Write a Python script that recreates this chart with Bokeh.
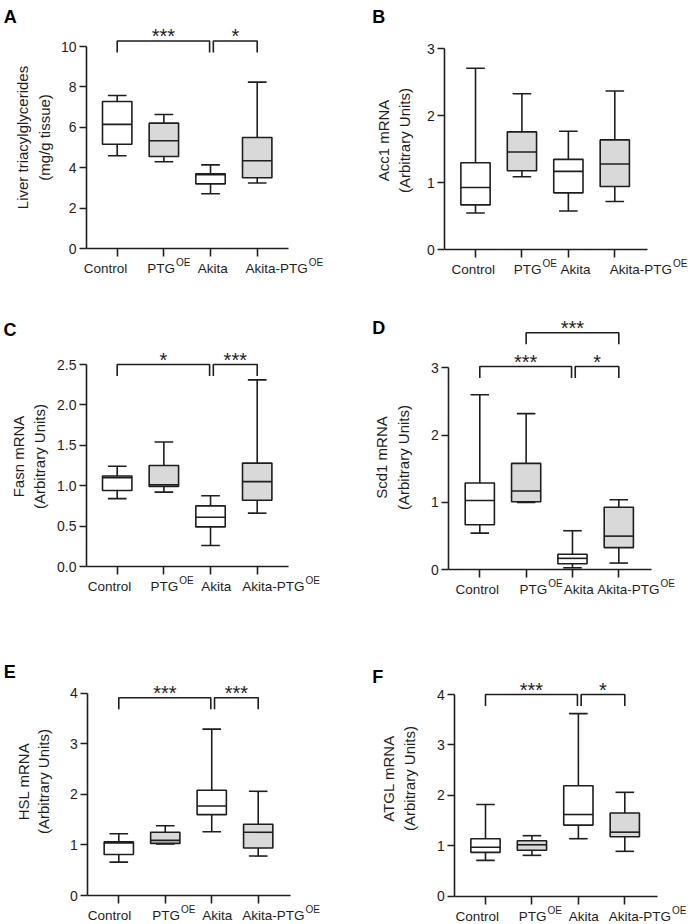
import math
from bokeh.plotting import figure
from bokeh.layouts import column, row
from bokeh.models import Label, Range1d, FixedTicker, PrintfTickFormatter
from bokeh.embed import file_html
from bokeh.resources import INLINE

FONT = "Liberation Sans"
INK = "#1e1e1e"
GRAY = "#d9d9d9"

# ---------------- data ----------------
groups = ["Control", "PTG", "Akita", "Akita-PTG"]
group_sup = ["", "OE", "", "OE"]
group_fill = ["white", GRAY, "white", GRAY]

a_title = ["Liver triacylglycerides", "(mg/g tissue)"]
a_yticks = [0, 2, 4, 6, 8, 10]
a_max = [7.58, 6.64, 4.15, 8.24]
a_q3 = [7.28, 6.21, 3.71, 5.50]
a_med = [6.15, 5.34, 3.66, 4.35]
a_q1 = [5.17, 4.56, 3.21, 3.51]
a_min = [4.60, 4.30, 2.72, 3.25]
a_pairs = [(1, 3), (3, 4)]
a_stars = ["***", "*"]
a_sig_y = [10.27, 10.27]

b_title = ["Acc1 mRNA", "(Arbitrary Units)"]
b_yticks = [0, 1, 2, 3]
b_max = [2.71, 2.33, 1.77, 2.37]
b_q3 = [1.30, 1.76, 1.35, 1.64]
b_med = [0.93, 1.46, 1.17, 1.28]
b_q1 = [0.67, 1.18, 0.85, 0.945]
b_min = [0.55, 1.09, 0.58, 0.72]
b_pairs = []
b_stars = []
b_sig_y = []

c_title = ["Fasn mRNA", "(Arbitrary Units)"]
c_yticks = [0, 0.5, 1.0, 1.5, 2.0, 2.5]
c_max = [1.24, 1.54, 0.875, 2.31]
c_q3 = [1.12, 1.25, 0.75, 1.28]
c_med = [1.10, 1.01, 0.61, 1.05]
c_q1 = [0.94, 0.99, 0.49, 0.82]
c_min = [0.84, 0.92, 0.26, 0.66]
c_pairs = [(1, 3), (3, 4)]
c_stars = ["*", "***"]
c_sig_y = [2.5, 2.5]

d_title = ["Scd1 mRNA", "(Arbitrary Units)"]
d_yticks = [0, 1, 2, 3]
d_max = [2.60, 2.32, 0.58, 1.04]
d_q3 = [1.29, 1.58, 0.23, 0.93]
d_med = [1.03, 1.17, 0.17, 0.50]
d_q1 = [0.67, 1.01, 0.09, 0.33]
d_min = [0.545, 1.00, 0.03, 0.10]
d_pairs = [(2, 4), (1, 3), (3, 4)]
d_stars = ["***", "***", "*"]
d_sig_y = [3.52, 3.02, 3.02]

e_title = ["HSL mRNA", "(Arbitrary Units)"]
e_yticks = [0, 1, 2, 3, 4]
e_max = [1.22, 1.38, 3.29, 2.06]
e_q3 = [1.06, 1.25, 2.08, 1.41]
e_med = [1.04, 1.09, 1.77, 1.25]
e_q1 = [0.81, 1.03, 1.60, 0.94]
e_min = [0.66, 1.02, 1.26, 0.78]
e_pairs = [(1, 3), (3, 4)]
e_stars = ["***", "***"]
e_sig_y = [3.91, 3.91]

f_title = ["ATGL mRNA", "(Arbitrary Units)"]
f_yticks = [0, 1, 2, 3, 4]
f_max = [1.82, 1.20, 3.62, 2.06]
f_q3 = [1.14, 1.10, 2.19, 1.65]
f_med = [0.97, 1.02, 1.62, 1.27]
f_q1 = [0.87, 0.91, 1.41, 1.18]
f_min = [0.71, 0.81, 1.14, 0.89]
f_pairs = [(1, 3), (3, 4)]
f_stars = ["***", "*"]
f_sig_y = [4.0, 4.0]

# text widths (em) of the main tick texts, Arial metrics
EM_W = {"Control": 3.223, "PTG": 2.056, "Akita": 2.223, "Akita-PTG": 4.612, "OE": 1.445}

# ---------------- layout (pixels, page coords) ----------------
COLS = [(0, 345), (345, 344)]               # (x origin, width)
ROWS = [(0, 300), (300, 310), (610, 313)]   # (y origin, height)
STAR_FS = 20
TICK_FS = 13.5
SUP_FS = 10
FIX = 4  # renderer places alphabetic baseline ~4px further down


def make_panel(letter, col, rowi, geom, title, yticks, fmt, vmax, vq3, vmed, vq1, vmin,
               pairs, stars, sig_y):
    cx0, W = COLS[col]
    ry0, H = ROWS[rowi]
    ax_l, ax_r, y0px, ytop_px, ytop_val, ticks_px = geom["frame"]
    ppx = (ticks_px[3] - ticks_px[0]) / 3.0
    ppu = (y0px - ytop_px) / ytop_val

    def dx(px):
        return 1 + (px - ticks_px[0]) / ppx

    def dy(py):
        return (y0px - py) / ppu

    p = figure(width=W, height=H, output_backend="svg", toolbar_location=None,
               x_range=Range1d(dx(cx0), dx(cx0 + W)), y_range=Range1d(dy(ry0 + H), dy(ry0)),
               min_border=0, min_border_left=0, min_border_right=0,
               min_border_top=0, min_border_bottom=0)
    p.outline_line_color = None
    p.background_fill_color = "white"
    p.border_fill_color = "white"
    p.xgrid.grid_line_color = None
    p.ygrid.grid_line_color = None

    for ax in (p.xaxis[0], p.yaxis[0]):
        ax.axis_line_color = INK
        ax.axis_line_width = 1.6
        ax.major_tick_line_color = INK
        ax.major_tick_line_width = 1.6
        ax.major_tick_in = 0
        ax.minor_tick_line_color = None
        ax.major_label_text_font = FONT
        ax.major_label_text_font_size = "14px"
        ax.major_label_text_color = INK
    p.xaxis[0].fixed_location = 0
    p.xaxis[0].bounds = (dx(ax_l), dx(ax_r))
    p.xaxis[0].ticker = FixedTicker(ticks=[1, 2, 3, 4])
    p.xaxis[0].major_tick_out = 8
    p.xaxis[0].major_label_text_color = None
    p.yaxis[0].fixed_location = dx(ax_l)
    p.yaxis[0].ticker = FixedTicker(ticks=yticks)
    p.yaxis[0].major_tick_out = 7
    p.yaxis[0].major_label_standoff = 3
    p.yaxis[0].bounds = (0, yticks[-1])
    if fmt:
        p.yaxis[0].formatter = PrintfTickFormatter(format=fmt)

    xs = [1, 2, 3, 4]
    bw = 0.63
    cw = 0.20
    p.segment(xs, vq3, xs, vmax, line_color=INK, line_width=1.6)
    p.segment(xs, vq1, xs, vmin, line_color=INK, line_width=1.6)
    p.segment([x - cw for x in xs], vmax, [x + cw for x in xs], vmax, line_color=INK, line_width=1.6)
    p.segment([x - cw for x in xs], vmin, [x + cw for x in xs], vmin, line_color=INK, line_width=1.6)
    p.vbar(x=xs, width=bw, bottom=vq1, top=vq3, fill_color=group_fill,
           line_color=INK, line_width=1.6)
    p.segment([x - bw / 2 for x in xs], vmed, [x + bw / 2 for x in xs], vmed,
              line_color=INK, line_width=1.6)

    # significance brackets
    drop = 11.5 / ppu
    bxs, bys = [], []
    for (g1, g2), s, top in zip(pairs, stars, sig_y):
        left = g1 + (0.06 if any(q[1] == g1 and t == top for q, t in zip(pairs, sig_y)) else 0.0)
        right = g2 - (0.02 if any(q[0] == g2 and t == top for q, t in zip(pairs, sig_y)) else 0.0)
        bxs.append([left, left, right, right])
        bys.append([top - drop, top, top, top - drop])
        star_base = top - (7 - 0.58 * STAR_FS) / ppu
        p.add_layout(Label(x=(left + right) / 2, y=star_base, text=s, text_font=FONT,
                           text_font_size=f"{STAR_FS}px", text_color=INK,
                           text_align="center", text_baseline="alphabetic"))
    if bxs:
        p.multi_line(bxs, bys, line_color=INK, line_width=1.6)

    # category labels with superscripts
    base = y0px + 24 - FIX
    right_edge = cx0 + W - 2
    for name, sup, lx in zip(groups, group_sup, geom["labels"]):
        total = EM_W[name] * TICK_FS + (EM_W[sup] * SUP_FS + 1 if sup else 0)
        lx = min(lx, right_edge - total)
        p.add_layout(Label(x=dx(lx), y=dy(base), text=name, text_font=FONT,
                           text_font_size=f"{TICK_FS}px", text_color=INK,
                           text_align="left", text_baseline="alphabetic"))
        if sup:
            p.add_layout(Label(x=dx(lx + EM_W[name] * TICK_FS + 1), y=dy(base - 6), text=sup,
                               text_font=FONT, text_font_size=f"{SUP_FS}px", text_color=INK,
                               text_align="left", text_baseline="alphabetic"))

    # y-axis title (two lines)
    b1, b2, cy = geom["title"]
    for txt, bx in zip(title, (b1, b2)):
        p.add_layout(Label(x=dx(bx - FIX), y=dy(cy), text=txt, angle=math.pi / 2,
                           text_font=FONT, text_font_size="15px", text_color=INK,
                           text_align="center", text_baseline="alphabetic"))

    # panel letter
    lx, ly = geom["letter"]
    p.add_layout(Label(x=dx(lx), y=dy(ly - FIX), text=letter, text_font=FONT,
                       text_font_size="18px", text_font_style="bold", text_color="black",
                       text_align="left", text_baseline="alphabetic"))
    return p


GEOM = {
    "A": {"frame": (86, 288, 248.3, 46, 10, [116.7, 163.3, 210, 256.7]),
          "labels": [83.3, 146.7, 197.3, 245], "title": (26, 47.7, 137), "letter": (3.3, 20.7)},
    "B": {"frame": (444.3, 646.7, 249.3, 48.3, 3, [475, 521.7, 567.7, 614.3]),
          "labels": [451, 513.3, 560, 611.7], "title": (386.7, 408, 140), "letter": (371.7, 20.7)},
    "C": {"frame": (86, 288.3, 566, 364, 2.5, [116.7, 163.3, 210, 256.7]),
          "labels": [87.3, 150, 200.7, 241.7], "title": (22, 43, 456), "letter": (3, 333.3)},
    "D": {"frame": (448.3, 651, 569.3, 367.3, 3, [479.3, 525, 572.3, 618.3]),
          "labels": [455, 519, 563.3, 596.7], "title": (385, 407, 457), "letter": (371.7, 331.7)},
    "E": {"frame": (87.3, 290, 895, 692.7, 4, [118.3, 164, 211, 257.7]),
          "labels": [87.3, 151.7, 201.7, 241.7], "title": (26.7, 46.7, 781), "letter": (3.3, 675)},
    "F": {"frame": (454.3, 656.7, 895.7, 694, 4, [485, 531.7, 577.7, 624.3]),
          "labels": [455, 518.3, 568.3, 608.3], "title": (391.7, 413, 778), "letter": (371.7, 680.7)},
}

pA = make_panel("A", 0, 0, GEOM["A"], a_title, a_yticks, None, a_max, a_q3, a_med, a_q1, a_min, a_pairs, a_stars, a_sig_y)
pB = make_panel("B", 1, 0, GEOM["B"], b_title, b_yticks, None, b_max, b_q3, b_med, b_q1, b_min, b_pairs, b_stars, b_sig_y)
pC = make_panel("C", 0, 1, GEOM["C"], c_title, c_yticks, "%.1f", c_max, c_q3, c_med, c_q1, c_min, c_pairs, c_stars, c_sig_y)
pD = make_panel("D", 1, 1, GEOM["D"], d_title, d_yticks, None, d_max, d_q3, d_med, d_q1, d_min, d_pairs, d_stars, d_sig_y)
pE = make_panel("E", 0, 2, GEOM["E"], e_title, e_yticks, None, e_max, e_q3, e_med, e_q1, e_min, e_pairs, e_stars, e_sig_y)
pF = make_panel("F", 1, 2, GEOM["F"], f_title, f_yticks, None, f_max, f_q3, f_med, f_q1, f_min, f_pairs, f_stars, f_sig_y)

layout = column(row(pA, pB), row(pC, pD), row(pE, pF))

with open("out.html", "w") as fh:
    fh.write(file_html(layout, INLINE))
